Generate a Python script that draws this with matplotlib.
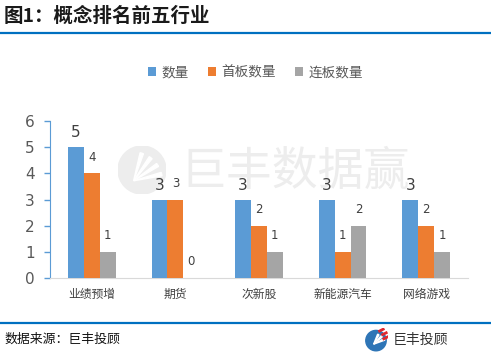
import matplotlib
matplotlib.use("Agg")
import matplotlib.pyplot as plt
from matplotlib.patches import Circle, Wedge
import numpy as np

plt.rcParams['font.family'] = ['Noto Sans CJK SC', 'DejaVu Sans']

categories = ["业绩预增", "期货", "次新股", "新能源汽车", "网络游戏"]
series_names = ["数量", "首板数量", "连板数量"]
count = [5, 3, 3, 3, 3]
first_board = [4, 3, 2, 1, 2]
cont_board = [1, 0, 1, 2, 1]
yticks = [0, 1, 2, 3, 4, 5, 6]

colors = ["#5B9BD5", "#ED7D31", "#A5A5A5"]
W, H = 491, 356
fig = plt.figure(figsize=(W / 100, H / 100), dpi=100)

# Title and rules
fig.text(4 / W, 1 - 16 / H, "图1：概念排名前五行业", fontsize=14, fontweight="bold",
         color="#1a1a1a", va="center", ha="left")
fig.add_artist(plt.Line2D([1 / W, 490 / W], [1 - 32.5 / H] * 2, color="#0070C0", lw=1.6))
fig.add_artist(plt.Line2D([1 / W, 490 / W], [1 - 322.5 / H] * 2, color="#0070C0", lw=1.6))
fig.text(4 / W, 1 - 339 / H, "数据来源：巨丰投顾", fontsize=9.3, color="#111111",
         va="center", ha="left")

# bottom-right logo
lax = fig.add_axes([364 / W, 1 - 352 / H, 24 / W, 24 / H])
lax.set_xlim(-1, 1); lax.set_ylim(-1, 1); lax.set_aspect("equal"); lax.axis("off")
lax.add_patch(Circle((0, -0.05), 0.85, color="#2E75B6"))
for i, a in enumerate([20, 40, 60]):
    lax.add_patch(Wedge((-0.2, -0.35), 1.0 - i * 0.05, a, a + 8, color="white"))
for i, (x0, y0) in enumerate([(0.3, 0.75), (0.55, 0.45), (0.65, 0.1)]):
    lax.plot([x0, x0 + 0.3], [y0, y0 + 0.15], color="#E0282E", lw=2)
fig.text(393 / W, 1 - 340 / H, "巨丰投顾", fontsize=10, color="#333333", va="center", ha="left")

ax = fig.add_axes([50 / W, 1 - 278 / H, 418 / W, 157 / H])

# watermark
wax = fig.add_axes([118 / W, 1 - 194 / H, 48 / W, 48 / H], zorder=0)
wax.set_xlim(-1, 1); wax.set_ylim(-1, 1); wax.set_aspect("equal"); wax.axis("off")
wax.add_patch(Circle((0, 0), 1, color="#EDEDED"))
for i, a in enumerate([10, 30, 50, 70]):
    wax.add_patch(Wedge((-0.35, -0.45), 1.2, a, a + 7, color="white"))
fig.text(180 / W, 1 - 172 / H, "巨丰数据赢", fontsize=33, color="#EDEDED",
         va="center", ha="left", zorder=0)
ax.set_zorder(2)
ax.patch.set_alpha(0)

x = np.arange(len(categories))
bw = 0.19
data = [count, first_board, cont_board]
label_sizes = [11, 8.5, 8.5]
for i, (vals, name) in enumerate(zip(data, series_names)):
    bars = ax.bar(x + (i - 1) * bw, vals, bw, color=colors[i], label=name, zorder=3)
    for b, v in zip(bars, vals):
        ax.annotate(str(v), (b.get_x() + b.get_width() / 2, v), xytext=(0, 5 if i == 0 else 7),
                    textcoords="offset points", ha="center", va="bottom",
                    fontsize=label_sizes[i], color="#404040",
                    family=["DejaVu Sans"])

ax.set_xlim(-0.5, len(categories) - 0.5)
ax.set_ylim(0, 6)
ax.set_yticks(yticks)
ax.set_yticklabels([str(t) for t in yticks], fontsize=11, color="#595959", family=["DejaVu Sans"])
ax.set_xticks(x)
ax.set_xticklabels(categories, fontsize=8.5, color="#404040")
ax.tick_params(axis="x", length=0, pad=7)
ax.tick_params(axis="y", length=4, color="#5B9BD5", width=1, pad=7)
for s in ["top", "right"]:
    ax.spines[s].set_visible(False)
ax.spines["left"].set_color("#5B9BD5")
ax.spines["bottom"].set_color("#D9D9D9")

leg = fig.legend(loc="center", bbox_to_anchor=(0.52, 1 - 72 / H), ncol=3, frameon=False,
                 fontsize=9.8, handlelength=0.6, handleheight=0.6, columnspacing=1.4,
                 handletextpad=0.4)
for t in leg.get_texts():
    t.set_color("#595959")

fig.savefig("out.png", dpi=100)
